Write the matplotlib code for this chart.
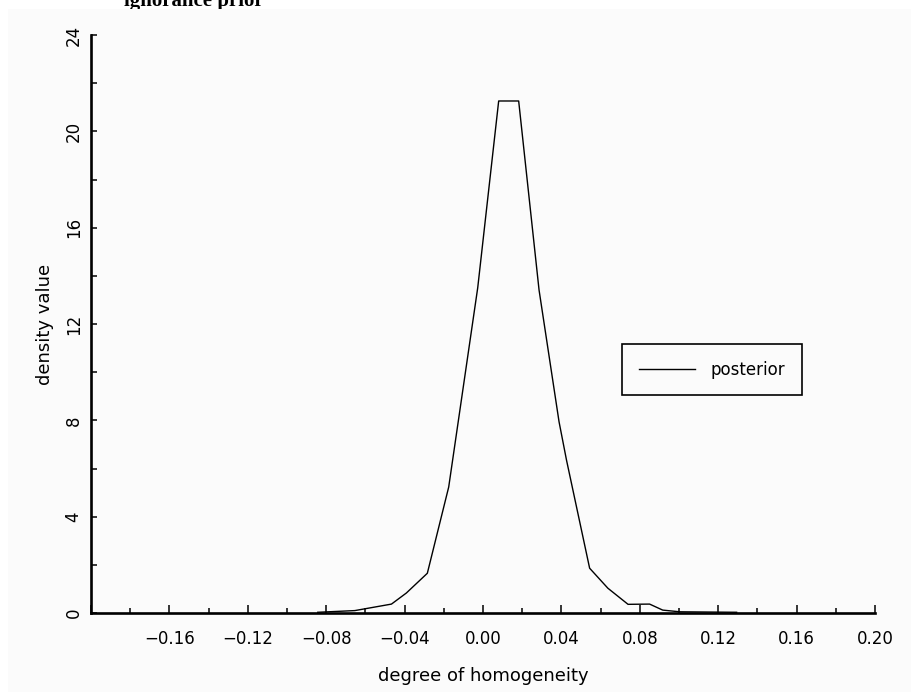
import matplotlib
matplotlib.use('Agg')
from matplotlib import pyplot as plt
from matplotlib.patches import Rectangle

# posterior density
homogeneity = [-0.0843, -0.0654, -0.0467, -0.0391, -0.0284, -0.0175, -0.0027,
               0.0080, 0.0182, 0.0286, 0.0388, 0.0426, 0.0544, 0.0637, 0.0740,
               0.0850, 0.0917, 0.1004, 0.1294]
density = [0.03, 0.10, 0.37, 0.83, 1.65, 5.23, 13.5,
           21.26, 21.26, 13.41, 7.94, 6.35, 1.86, 1.03, 0.36,
           0.37, 0.12, 0.05, 0.03]

x_major = [-0.20, -0.16, -0.12, -0.08, -0.04, 0.00, 0.04, 0.08, 0.12, 0.16, 0.20]
x_labels = ['', '\u22120.16', '\u22120.12', '\u22120.08', '\u22120.04', '0.00',
            '0.04', '0.08', '0.12', '0.16', '0.20']
x_minor = [-0.18, -0.14, -0.10, -0.06, -0.02, 0.02, 0.06, 0.10, 0.14, 0.18]
y_major = [0, 4, 8, 12, 16, 20, 24]
y_minor = [2, 6, 10, 14, 18, 22]

W, H = 911, 692
fig = plt.figure(figsize=(W / 100, H / 100), dpi=100)
fig.patch.set_facecolor('white')

# title sits half outside the figure, its descenders hidden by the panel
fig.text(194 / W, 1 - 6 / H, 'ignorance prior', ha='center', va='baseline',
         fontsize=15, fontweight='bold', family='Liberation Serif', zorder=-2)
fig.patches.append(Rectangle((8 / W, 0), 1, 1 - 9 / H, transform=fig.transFigure,
                             facecolor='#fbfbfb', edgecolor='none', zorder=-1))

ax = fig.add_axes([91 / W, 1 - 613 / H, 784 / W, 578 / H])
ax.set_facecolor('none')
ax.plot(homogeneity, density, color='black', lw=1.0, label='posterior')

ax.set_xlim(-0.20, 0.20)
ax.set_ylim(0, 24)
for side in ('top', 'right'):
    ax.spines[side].set_visible(False)
for side in ('left', 'bottom'):
    ax.spines[side].set_linewidth(1.9)

ax.set_xticks(x_major)
ax.set_xticklabels(x_labels)
ax.set_xticks(x_minor, minor=True)
ax.set_yticks(y_major)
ax.set_yticks(y_minor, minor=True)
ax.tick_params(axis='x', which='major', direction='in', length=6, width=1.1,
               pad=12, labelsize=12)
ax.tick_params(axis='x', which='minor', direction='in', length=3.5, width=1.1)
ax.tick_params(axis='y', which='both', direction='in', length=4, width=1.1,
               pad=6, labelsize=12)
for lab in ax.get_yticklabels():
    lab.set_rotation(90)
    lab.set_va('center')

ax.set_xlabel('degree of homogeneity', fontsize=13, labelpad=14)
ax.set_ylabel('density value', fontsize=13, labelpad=8)

leg = ax.legend(loc='center', bbox_to_anchor=(0.792, 0.421), fontsize=12,
                handlelength=3.4, handletextpad=0.9, borderpad=1.0,
                fancybox=False, framealpha=1, edgecolor='black',
                facecolor='#fbfbfb')
leg.get_frame().set_linewidth(1.2)

plt.savefig('out.png', dpi=100)
